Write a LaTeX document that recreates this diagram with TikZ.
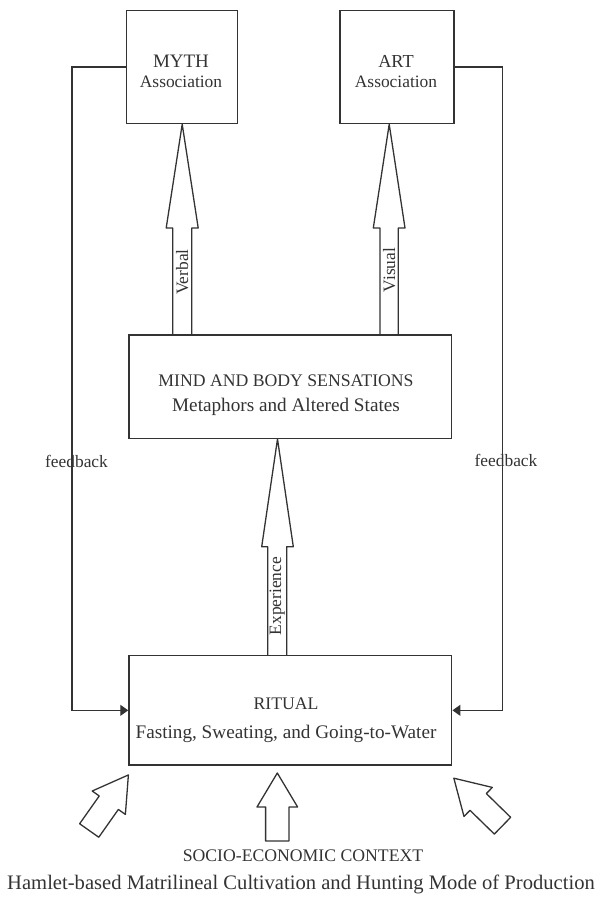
\documentclass[tikz,border=0pt]{standalone}
\usepackage{fontspec}
\setmainfont{Liberation Serif}
\usepackage{tikz}
\usetikzlibrary{arrows.meta}

\definecolor{inkgray}{gray}{0.2}
\newcommand{\capsfont}{\fontsize{17.7}{20}\selectfont}
\newcommand{\lowerfont}{\fontsize{19.2}{20}\selectfont}
\newcommand{\tagfont}{\fontsize{17.4}{20}\selectfont}

\tikzset{
  box/.style={draw=inkgray, line width=1.5pt},
  txt/.style={align=center, inner sep=0pt, anchor=base, text=inkgray},
  fbline/.style={draw=inkgray, line width=1.2pt, -{Triangle[length=8pt,width=11pt]}},
  fatarrow/.style={draw=inkgray, line width=1.3pt, line join=round},
  pics/pusharrow/.style={code={
    \draw[fatarrow] (-11.7,0) -- (-11.7,34) -- (-20.3,34) -- (0,68) -- (20.3,34) -- (11.7,34) -- (11.7,0) -- cycle;
  }},
}

\begin{document}
\begin{tikzpicture}[x=1pt,y=1pt]
\useasboundingbox (0,0) rectangle (602,901);

% the four boxes
\node[box, minimum width=111.2pt, minimum height=113pt] (myth) at (182.1,834) {};
\node[box, minimum width=114pt, minimum height=113pt] (art) at (397,834) {};
\node[box, minimum width=322.7pt, minimum height=103.3pt] (mind) at (290.35,514.35) {};
\node[box, minimum width=322.7pt, minimum height=109.3pt] (ritual) at (290.35,190.65) {};

% base of a two-line text is its last line
\node[txt, font=\tagfont] (mythtxt) at (181,813) {{\fontsize{19}{20}\selectfont MYTH}\\Association};
\node[txt, font=\tagfont] (arttxt) at (396,813) {{\fontsize{18.3}{20}\selectfont ART}\\Association};
\node[txt, font=\capsfont] (mindtxt) at (286,489) {MIND AND BODY SENSATIONS\\[5pt]\lowerfont Metaphors and Altered States};
\node[txt, font=\capsfont] (ritualtxt) at (286,162) {RITUAL\\[9pt]\lowerfont Fasting, Sweating, and Going-to-Water};

% channels between the boxes
\draw[fatarrow] (172.7,0 |- mind.north) -- (172.7,673) -- (166.2,673) -- (182.2,0 |- myth.south)
                -- (198.2,673) -- (191.7,673) -- (191.7,0 |- mind.north);
\draw[fatarrow] (380,0 |- mind.north) -- (380,673) -- (373.3,673) -- (389.2,0 |- art.south)
                -- (405,673) -- (398.3,673) -- (398.3,0 |- mind.north);
\draw[fatarrow] (267.7,0 |- ritual.north) -- (267.7,354.3) -- (261.7,354.3) -- (277.5,0 |- mind.south)
                -- (293.3,354.3) -- (286.7,354.3) -- (286.7,0 |- ritual.north);
\node[txt, anchor=center, rotate=90, font=\tagfont] (verbal) at (182.2,629) {Verbal};
\node[txt, anchor=center, rotate=90, font=\tagfont] (visual) at (389.2,631) {Visual};
\node[txt, anchor=center, rotate=90, font=\tagfont] (experience) at (277.2,305) {Experience};

% feedback loops
\draw[fbline] (myth.west) -- ++(-53.8,0) |- (ritual.west);
\draw[fbline] (art.east) -- ++(47.7,0) |- (ritual.east);
\node[txt, font=\tagfont] (fbleft) at (76.5,433.8) {feedback};
\node[txt, font=\tagfont] (fbright) at (506,434.3) {feedback};

% context pushing on the ritual
\pic[rotate=-35.2] (pushleft) at (89.2,70.5) {pusharrow};
\pic (pushmid) at (277.3,60) {pusharrow};
\pic[rotate=45.7] (pushright) at (502.5,75.3) {pusharrow};
\node[txt, font=\capsfont] (context) at (303,39) {SOCIO-ECONOMIC CONTEXT};
\node[txt, font=\fontsize{20.6}{22}\selectfont] (mode) at (301,12) {Hamlet-based Matrilineal Cultivation and Hunting Mode of Production};
\end{tikzpicture}
\end{document}
